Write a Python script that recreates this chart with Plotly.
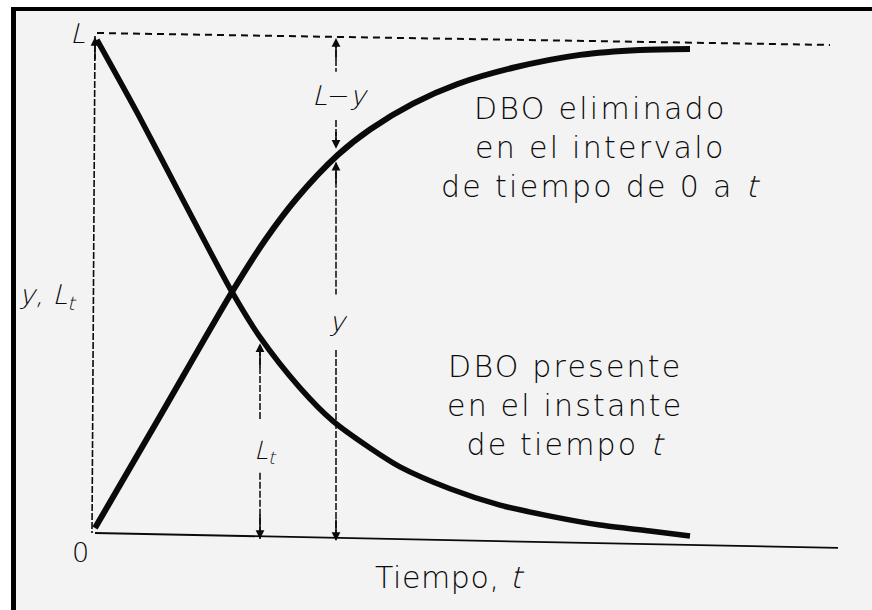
import plotly.graph_objects as go

# BOD curves: time t (arbitrary units) and fraction of ultimate BOD L
t_present = [0.04, 0.9, 1.76, 2.74, 3.3, 4.1, 4.76, 5.5, 6.1, 7.1, 8.1, 9.1, 10.1, 11.1, 11.9]
bod_present = [0.992, 0.835, 0.670, 0.485, 0.394, 0.292, 0.225, 0.171, 0.133, 0.089, 0.056, 0.034, 0.016, 0.004, -0.006]

t_removed = [0.0, 1.3, 2.74, 3.4, 4.04, 4.86, 5.5, 6.36, 7.24, 8.36, 9.7, 10.9, 11.9]
bod_removed = [0.010, 0.235, 0.485, 0.589, 0.674, 0.761, 0.812, 0.864, 0.903, 0.936, 0.962, 0.972, 0.974]

L_value = 1.0
t_mark_present = 3.3   # instant where L_t is marked
t_mark_removed = 4.82  # instant where y and L - y are marked

W, H = 872, 610
BG = "#f3f3f3"
INK = "#0a0a0a"
FONT = "DejaVu Sans Light, DejaVu Sans"


def px(x):
    return x / W


def py(y):
    return 1 - y / H


fig = go.Figure()

fig.add_trace(go.Scatter(x=t_removed, y=bod_removed, mode="lines",
                         line=dict(color=INK, width=6, shape="spline", smoothing=0.8),
                         hoverinfo="skip", showlegend=False))
fig.add_trace(go.Scatter(x=t_present, y=bod_present, mode="lines",
                         line=dict(color=INK, width=5.5, shape="spline", smoothing=0.8),
                         hoverinfo="skip", showlegend=False))

GUIDE = dict(color=INK, width=1.5, dash="7px,2px")

shapes = [
    # frame (top and left edges) and page background
    dict(type="rect", xref="paper", yref="paper", x0=px(11), x1=1.1, y0=py(7), y1=-0.1,
         fillcolor="black", line=dict(width=0), layer="below"),
    dict(type="rect", xref="paper", yref="paper", x0=px(16), x1=1.1, y0=py(11), y1=-0.1,
         fillcolor=BG, line=dict(width=0), layer="below"),
    # time axis
    dict(type="line", x0=0, y0=0.0, x1=14.86, y1=-0.03, line=dict(color=INK, width=1.8)),
    # vertical axis
    dict(type="line", x0=0.0, y0=L_value, x1=-0.06, y1=0.0, line=dict(color=INK, width=1.6, dash="7px,2px")),
    # ultimate BOD level L
    dict(type="line", x0=0.04, y0=L_value + 0.006, x1=14.7, y1=L_value - 0.018,
         line=dict(color=INK, width=2, dash="7px,5px")),
    # L_t guide
    dict(type="line", x0=t_mark_present, y0=0.37, x1=t_mark_present, y1=0.227, line=GUIDE),
    dict(type="line", x0=t_mark_present, y0=0.121, x1=t_mark_present, y1=-0.012, line=GUIDE),
    # L - y and y guides
    dict(type="line", x0=t_mark_removed, y0=0.99, x1=t_mark_removed, y1=0.928, line=GUIDE),
    dict(type="line", x0=t_mark_removed, y0=0.831, x1=t_mark_removed, y1=0.785, line=GUIDE),
    dict(type="line", x0=t_mark_removed, y0=0.745, x1=t_mark_removed, y1=0.48, line=GUIDE),
    dict(type="line", x0=t_mark_removed, y0=0.368, x1=t_mark_removed, y1=-0.014, line=GUIDE),
]


def arrow(x, y, ax, ay):
    return dict(x=x, y=y, ax=ax, ay=ay, xref="x", yref="y", axref="x", ayref="y",
                text="", showarrow=True, arrowhead=2, arrowsize=1.1, arrowwidth=1.6,
                arrowcolor=INK, standoff=0, startstandoff=0)


def label(x, y, text, size, spacing=0.0, **kw):
    if spacing:
        text = "<br>".join(f'<span style="letter-spacing:{spacing}px">{ln}</span>'
                           for ln in text.split("<br>"))
    return dict(x=x, y=y, xref="x", yref="y", text=text, showarrow=False,
                font=dict(family=FONT, size=size, color=INK), **kw)


annotations = [
    arrow(0.0, L_value - 0.002, 0.0, L_value - 0.05),
    arrow(t_mark_present, 0.382, t_mark_present, 0.33),
    arrow(t_mark_present, -0.012, t_mark_present, 0.04),
    arrow(t_mark_removed, 0.996, t_mark_removed, 0.95),
    arrow(t_mark_removed, 0.773, t_mark_removed, 0.81),
    arrow(t_mark_removed, 0.747, t_mark_removed, 0.70),
    arrow(t_mark_removed, -0.016, t_mark_removed, 0.03),

    label(-0.36, 1.006, "<i>L</i>", 27),
    label(-0.94, 0.475, "<i>y, L<sub>t</sub></i>", 27),
    label(-0.30, -0.040, "0", 27),
    label(4.90, 0.881, "<i>L</i>−<i>y</i>", 27),
    label(4.86, 0.425, "<i>y</i>", 27),
    label(3.40, 0.163, "<i>L<sub>t</sub></i>", 25),
    label(10.1, 0.775, "DBO eliminado<br>en el intervalo<br>de tiempo de 0 a <i>t</i>", 30,
          spacing=2.3, align="center"),
    label(9.4, 0.2575, "DBO presente<br>en el instante<br>de tiempo <i>t</i>", 30,
          spacing=2.2, align="center"),
    label(7.10, -0.0905, "Tiempo, <i>t</i>", 30, spacing=0.6),
]

fig.update_layout(
    width=W, height=H, autosize=False,
    margin=dict(l=0, r=0, t=0, b=0, pad=0),
    paper_bgcolor="white", plot_bgcolor="rgba(0,0,0,0)",
    xaxis=dict(range=[-1.9, 15.54], visible=False, fixedrange=True),
    yaxis=dict(range=[-0.1549, 1.0724], visible=False, fixedrange=True),
    shapes=shapes, annotations=annotations,
    showlegend=False,
)

fig.write_html("out.html")
